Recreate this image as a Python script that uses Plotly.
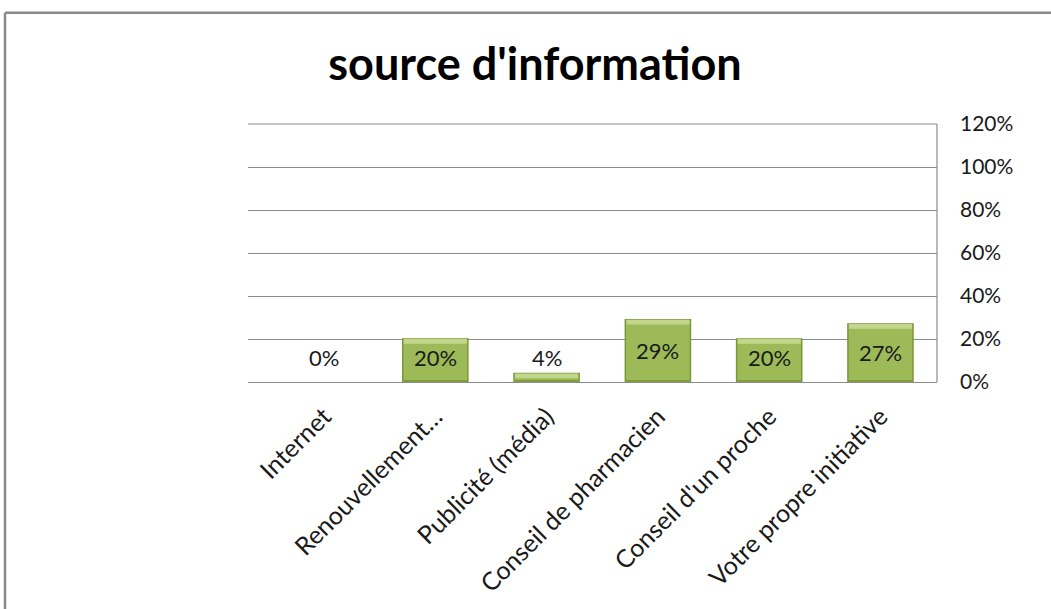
import plotly.graph_objects as go

# Survey results: where respondents got their information
categories = [
    "Internet",
    "Renouvellement…",
    "Publicité (média)",
    "Conseil de pharmacien",
    "Conseil d'un proche",
    "Votre propre initiative",
]
shares = [0.00, 0.20, 0.04, 0.29, 0.20, 0.27]
y_ticks = [0, 0.2, 0.4, 0.6, 0.8, 1.0, 1.2]
y_tick_labels = ["0%", "20%", "40%", "60%", "80%", "100%", "120%"]

W, H = 1051, 609
L, R, T, B = 248, 937, 124, 384  # plot area in pixels

FONT = "Lato"
GRID = "#8c8c8c"
TXT = "#1a1a1a"
BAR_W = 0.585

xs = list(range(len(categories)))
fig = go.Figure()

# main bar body
fig.add_trace(go.Bar(
    x=xs, y=shares, width=BAR_W,
    marker=dict(color="#9cba58",
                line=dict(color="#7b9838", width=[0 if v == 0 else 1.5 for v in shares])),
    hoverinfo="skip",
))
# lighter bevel along the top of each bar
bevel = [min(v, 0.022) for v in shares]
fig.add_trace(go.Bar(
    x=xs, y=bevel, base=[v - b for v, b in zip(shares, bevel)], width=BAR_W * 0.97,
    marker=dict(color="#c3d78c", line=dict(width=0)),
    hoverinfo="skip",
))
# darker strip along the bottom edge
shade = [min(v, 0.008) for v in shares]
fig.add_trace(go.Bar(
    x=xs, y=shade, base=[0] * len(shares), width=BAR_W * 0.97,
    marker=dict(color="#7f9c3e", line=dict(width=0)),
    hoverinfo="skip",
))

annotations = []
for i, v in enumerate(shares):
    annotations.append(dict(
        x=i, y=max(v / 2, 0.115), xref="x", yref="y",
        text=f"{round(v * 100)}%", showarrow=False,
        font=dict(family=FONT, size=22, color=TXT),
        xanchor="center", yanchor="middle",
    ))

px_x = lambda p: (p - L) / (R - L)
px_y = lambda p: (B - p) / (B - T)

shapes = [
    # outer chart frame (top and left edges)
    dict(type="line", xref="paper", yref="paper",
         x0=px_x(5), x1=px_x(W + 5), y0=px_y(12), y1=px_y(12),
         line=dict(color="#8a8a8a", width=2.5)),
    dict(type="line", xref="paper", yref="paper",
         x0=px_x(5), x1=px_x(5), y0=px_y(12), y1=px_y(H + 5),
         line=dict(color="#8a8a8a", width=2.5)),
    # right axis line
    dict(type="line", xref="paper", yref="paper",
         x0=1, x1=1, y0=0, y1=1, line=dict(color=GRID, width=1.2)),
    # gridline at the top of the value range
    dict(type="line", xref="paper", yref="paper",
         x0=0, x1=1, y0=1, y1=1, line=dict(color=GRID, width=1.2)),
]

fig.update_layout(
    width=W, height=H,
    margin=dict(l=L, r=W - R, t=T, b=H - B, pad=0),
    paper_bgcolor="white", plot_bgcolor="white",
    barmode="overlay",
    showlegend=False,
    title=dict(
        text="<b>source d'information</b>",
        font=dict(family=FONT, size=45, color="#000000"),
        x=535 / W, xanchor="center", xref="container",
        y=1 - 64 / H, yanchor="middle", yref="container",
    ),
    xaxis=dict(
        range=[-0.683, 5.508],
        tickmode="array",
        tickvals=xs,
        ticktext=categories,
        tickangle=-45,
        tickfont=dict(family=FONT, size=25, color=TXT),
        ticklabelstandoff=9,
        showgrid=False, zeroline=False,
        showline=True, linecolor=GRID, linewidth=1.2,
        ticks="",
    ),
    yaxis=dict(
        range=[0, 1.2],
        side="right",
        tickmode="array",
        tickvals=y_ticks,
        ticktext=y_tick_labels,
        tickfont=dict(family=FONT, size=21, color=TXT),
        ticklabelstandoff=22,
        showgrid=True, gridcolor=GRID, gridwidth=1.2,
        zeroline=False, showline=False, ticks="",
    ),
    annotations=annotations,
    shapes=shapes,
)

fig.write_html("out.html")
